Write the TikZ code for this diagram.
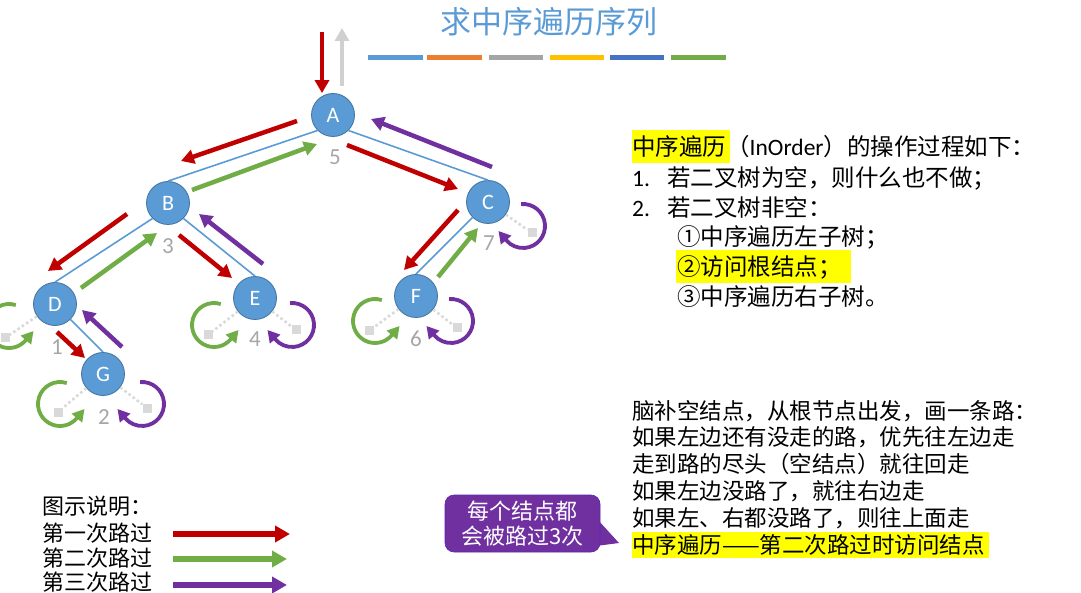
\documentclass[tikz,border=0pt]{standalone}
\usepackage{fontspec}
\setmainfont{Carlito}
\newfontfamily\cjk{Noto Sans CJK SC}
\usetikzlibrary{arrows.meta,calc}
\definecolor{nodeblue}{HTML}{5B9BD5}
\definecolor{nodeedge}{HTML}{41719C}
\definecolor{arrred}{HTML}{C00000}
\definecolor{arrgreen}{HTML}{70AD47}
\definecolor{arrpurple}{HTML}{7030A0}
\definecolor{nullgray}{HTML}{D9D9D9}
\definecolor{numgray}{HTML}{A6A6A6}
\definecolor{upgray}{HTML}{D0D0D0}
\definecolor{hlyellow}{HTML}{FFFF00}
\definecolor{barA}{HTML}{5B9BD5}
\definecolor{barB}{HTML}{ED7D31}
\definecolor{barC}{HTML}{A5A5A5}
\definecolor{barD}{HTML}{FFC000}
\definecolor{barE}{HTML}{4472C4}
\definecolor{barF}{HTML}{70AD47}
% #1 node, #2 offset of the loop centre
\newcommand\mkgloop[2]{\draw[gloop] ($(#1)+(#2)+(72:22)$) arc[start angle=72,end angle=320,radius=22] -- ++(50:12);}
\newcommand\mkploop[2]{\draw[ploop] ($(#1)+(#2)+(95:22)$) arc[start angle=95,end angle=-140,radius=22] -- ++(130:12);}
\begin{document}
\begin{tikzpicture}[x=1pt,y=1pt,
  tnode/.style={circle,fill=nodeblue,draw=nodeedge,line width=0.8pt,minimum size=43pt,inner sep=0pt,text=white,font=\fontsize{22}{22}\selectfont},
  tedge/.style={draw=nodeblue,line width=1.6pt},
  num/.style={text=numgray,font=\fontsize{23}{23}\selectfont,inner sep=0pt},
  redarr/.style={draw=arrred,line width=4.5pt,-{Triangle[length=13pt,width=14pt]}},
  greenarr/.style={draw=arrgreen,line width=4.5pt,-{Triangle[length=13pt,width=14pt]}},
  purplearr/.style={draw=arrpurple,line width=4.5pt,-{Triangle[length=13pt,width=14pt]}},
  grayarr/.style={draw=upgray,line width=4.5pt,-{Triangle[length=13pt,width=14pt]}},
  gloop/.style={draw=arrgreen,line width=3.8pt,-{Triangle[length=12pt,width=13pt]}},
  ploop/.style={draw=arrpurple,line width=3.8pt,-{Triangle[length=12pt,width=13pt]}},
  nullsq/.style={rectangle,fill=nullgray,minimum size=9pt,inner sep=0pt},
  nullline/.style={draw=nullgray,line width=2.6pt,dash pattern=on 2.6pt off 2.6pt},
  txtA/.style={anchor=base west,inner sep=0pt,font=\cjk\fontsize{23.5}{28}\selectfont},
  txtB/.style={anchor=base west,inner sep=0pt,font=\cjk\fontsize{22.5}{27}\selectfont},
  legtxt/.style={anchor=base west,inner sep=0pt,font=\cjk\fontsize{22}{26}\selectfont},
  legarr/.style={line width=5.5pt,-{Triangle[length=15pt,width=16pt]}},
  hl/.style={fill=hlyellow}
]
\useasboundingbox (0,0) rectangle (1081,-593);

% title and colour bars
\node[text=nodeblue,font=\cjk\fontsize{31}{31}\selectfont,inner sep=0pt] (title) at (549,-22) {求中序遍历序列};
\fill[barA] (368,-55) rectangle (423,-60);
\fill[barB] (427,-55) rectangle (482,-60);
\fill[barC] (489,-55) rectangle (543,-60);
\fill[barD] (550,-55) rectangle (604,-60);
\fill[barE] (610,-55) rectangle (664,-60);
\fill[barF] (671,-55) rectangle (726,-60);

% tree nodes
\node[tnode] (A) at (333,-115) {A};
\node[tnode] (B) at (168,-203) {B};
\node[tnode] (C) at (488,-202) {C};
\node[tnode] (D) at (55,-304) {D};
\node[tnode] (E) at (255,-298) {E};
\node[tnode] (F) at (416,-296) {F};
\node[tnode] (G) at (103,-374) {G};

% tree edges
\draw[tedge] (A.225) -- (B.north);
\draw[tedge] (A.315) -- (C.north);
\draw[tedge] (B.225) -- (D.north);
\draw[tedge] (B.315) -- (E.north);
\draw[tedge] (C.225) -- (F.north);
\draw[tedge] (D.315) -- (G.north);

% visit order numbers
\node[num] (n5) at (335,-157) {5};
\node[num] (n3) at (168,-246) {3};
\node[num] (n7) at (489,-243) {7};
\node[num] (n1) at (57,-347) {1};
\node[num] (n4) at (255,-339) {4};
\node[num] (n6) at (416,-339) {6};
\node[num] (n2) at (104,-417) {2};

% null children
\node[nullsq] (Dl) at ($(D)+(-50,-34)$) {};
\node[nullsq] (El) at ($(E)+(-47,-37)$) {};
\node[nullsq] (Er) at ($(E)+(41,-32)$) {};
\node[nullsq] (Fl) at ($(F)+(-47,-35)$) {};
\node[nullsq] (Fr) at ($(F)+(41,-32)$) {};
\node[nullsq] (Gl) at ($(G)+(-45,-38)$) {};
\node[nullsq] (Gr) at ($(G)+(44,-34)$) {};
\node[nullsq] (Cr) at ($(C)+(44,-31)$) {};
\foreach \p/\q in {D/Dl,E/El,E/Er,F/Fl,F/Fr,G/Gl,G/Gr,C/Cr}
  \draw[nullline] (\p) -- (\q);

% entry / exit arrows at the root
\coordinate (inS) at (322,-32);
\coordinate (outS) at (342,-86);
\coordinate (outE) at (342,-28);
\draw[redarr] (inS) -- (A.north -| inS);
\draw[grayarr] (outS) -- (outE);

% traversal arrows along the edges
\draw[redarr] (297,-121) -- (181,-161);
\draw[greenarr] (192,-190) -- (317,-144);
\draw[redarr] (347,-145) -- (458,-189);
\draw[purplearr] (492,-167) -- (371,-119);
\draw[redarr] (127,-214) -- (48,-271);
\draw[greenarr] (81,-288) -- (157,-233);
\draw[redarr] (179,-235) -- (232,-278);
\draw[purplearr] (263,-264) -- (199,-214);
\draw[redarr] (458,-210) -- (404,-270);
\draw[greenarr] (438,-277) -- (478,-228);
\draw[redarr] (57,-332) -- (85,-358);
\draw[purplearr] (122,-347) -- (82,-310);

% loops at empty children
\mkgloop{D}{-46,-22}
\mkgloop{E}{-41,-27}
\mkploop{E}{37,-27}
\mkgloop{F}{-41,-25}
\mkploop{F}{35,-25}
\mkgloop{G}{-43,-30}
\mkploop{G}{39,-30}
\mkploop{C}{35,-24}

% right-hand description
\fill[hl] (632,-130) rectangle (730,-163);
\fill[hl] (676,-250) rectangle (851,-283);
\node[txtA] (t1) at (632,-156) {中序遍历（{\rmfamily InOrder}）的操作过程如下：};
\node[txtA,font=\fontsize{23.5}{28}\selectfont] (t2n) at (632,-187) {1.};
\node[txtA] (t2) at (667,-187) {若二叉树为空，则什么也不做；};
\node[txtA,font=\fontsize{23.5}{28}\selectfont] (t3n) at (632,-217) {2.};
\node[txtA] (t3) at (667,-217) {若二叉树非空：};
\node[txtA] (t4) at (677,-246) {①中序遍历左子树；};
\node[txtA] (t5) at (677,-276) {②访问根结点；};
\node[txtA] (t6) at (677,-306) {③中序遍历右子树。};

\fill[hl] (632,-532) rectangle (989,-558);
\node[txtB] (s1) at (632,-419.5) {脑补空结点，从根节点出发，画一条路：};
\node[txtB] (s2) at (632,-445.5) {如果左边还有没走的路，优先往左边走};
\node[txtB] (s3) at (632,-472.5) {走到路的尽头（空结点）就往回走};
\node[txtB] (s4) at (632,-499.5) {如果左边没路了，就往右边走};
\node[txtB] (s5) at (632,-526.5) {如果左、右都没路了，则往上面走};
\node[txtB] (s6) at (632,-553.5) {中序遍历——第二次路过时访问结点};

% callout
\fill[arrpurple] (598,-520) -- (619,-543) -- (596,-546) -- cycle;
\node[fill=arrpurple,draw=arrpurple!80!blue,line width=0.6pt,rounded corners=9pt,minimum width=155pt,minimum height=57pt,inner sep=0pt,
  text=white,align=center,font=\cjk\fontsize{22}{25}\selectfont] (call) at (522.5,-523.5) {每个结点都\\会被路过3次};

% legend
\node[legtxt] (lg0) at (42,-514) {图示说明：};
\node[legtxt] (lg1) at (42,-541) {第一次路过};
\node[legtxt] (lg2) at (42,-566) {第二次路过};
\node[legtxt] (lg3) at (42,-590) {第三次路过};
\coordinate (la1) at (173,-534);
\coordinate (lb1) at (290,-534);
\coordinate (la2) at (173,-559);
\coordinate (lb2) at (287,-559);
\coordinate (la3) at (173,-585);
\coordinate (lb3) at (287,-585);
\draw[legarr,draw=arrred] (la1) -- (lb1);
\draw[legarr,draw=arrgreen] (la2) -- (lb2);
\draw[legarr,draw=arrpurple] (la3) -- (lb3);
\end{tikzpicture}
\end{document}
